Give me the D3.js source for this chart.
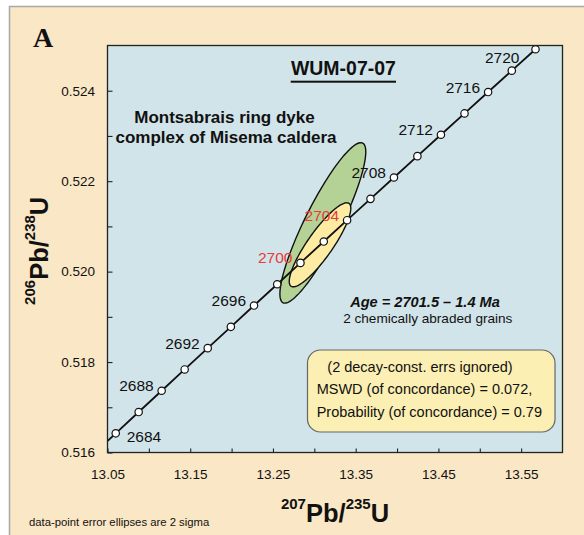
<!DOCTYPE html>
<html>
<head>
<meta charset="utf-8">
<script src="https://cdn.jsdelivr.net/npm/d3@7"></script>
<style>
body{margin:0;background:#fff;}
svg{display:block;}
text{font-family:"Liberation Sans",Arial,sans-serif;fill:#111;}
</style>
</head>
<body>
<div id="chart"></div>
<script>
// concordia points, every 2 Ma
var ages=[2682,2684,2686,2688,2690,2692,2694,2696,2698,2700,2702,2704,2706,2708,2710,2712,2714,2716,2718,2720]
var pb207u235=[13.03229,13.05995,13.08767,13.11545,13.14327,13.17116,13.19910,13.22709,13.25514,13.28325,
    13.31141,13.33963,13.36790,13.39623,13.42461,13.45305,13.48155,13.51009,13.53870,13.56736]
var pb206u238=[0.515954,0.516424,0.516895,0.517366,0.517837,0.518308,0.518779,0.519250,0.519721,0.520193,
    0.520665,0.521137,0.521609,0.522081,0.522553,0.523026,0.523498,0.523971,0.524444,0.524917]
var labelAges=[2684,2688,2692,2696,2700,2704,2708,2712,2716,2720]
var redAges=[2700,2704]

// the two abraded grains: centre, 2 sigma half widths, error correlation
var grains=['grain 1','grain 2']
var grainX=[13.3103,13.3069]
var grainY=[0.521077,0.520593]
var grainSx=[0.0519,0.0372]
var grainSy=[0.001774,0.000929]
var grainRho=[0.885,0.87]
var grainFill=['#b4d296','#fdeca2']

// axes
var xDomain=[13.05,13.60]
var yDomain=[0.516,0.525]
var xMajor=[13.05,13.15,13.25,13.35,13.45,13.55]
var xMinor=[13.10,13.20,13.30,13.40,13.50]
var yMajor=[0.516,0.518,0.520,0.522,0.524]
var yMinor=[0.517,0.519,0.521,0.523]

var svgW=584, svgH=535
var plot={left:107.5,right:562.5,top:45.5,bottom:452.5}

var svg=d3.select('#chart').append('svg')
    .attr('width',svgW)
    .attr('height',svgH)

// beige panel
svg.append('rect')
    .attr('x',9.5).attr('y',6.5)
    .attr('width',svgW+20).attr('height',svgH+20)
    .attr('fill','#fae7c5')
    .attr('stroke','#a8a8a8').attr('stroke-width',1.5)

svg.append('text')
    .attr('x',33).attr('y',47)
    .style('font-family','"Liberation Serif","Times New Roman",serif')
    .style('font-weight','bold').style('font-size','28px')
    .text('A')

var x=d3.scaleLinear().domain(xDomain).range([plot.left,plot.right])
var y=d3.scaleLinear().domain(yDomain).range([plot.bottom,plot.top])

svg.append('rect')
    .attr('x',plot.left).attr('y',plot.top)
    .attr('width',plot.right-plot.left).attr('height',plot.bottom-plot.top)
    .attr('fill','#d1e4e9')

svg.append('clipPath').attr('id','clip')
    .append('rect')
    .attr('x',plot.left).attr('y',plot.top)
    .attr('width',plot.right-plot.left).attr('height',plot.bottom-plot.top)

// error ellipses
function ellipse(i){
    var pts=[]
    var k=Math.sqrt(1-grainRho[i]*grainRho[i])
    for(var s=0;s<=120;s++){
        var t=s/120*2*Math.PI
        var vx=grainX[i]+grainSx[i]*Math.cos(t)
        var vy=grainY[i]+grainSy[i]*(grainRho[i]*Math.cos(t)+k*Math.sin(t))
        pts.push([x(vx),y(vy)])
    }
    return d3.line()(pts)+'Z'
}
svg.append('g').selectAll('path')
    .data(grains)
    .enter().append('path')
    .attr('d',(d,i)=>ellipse(i))
    .attr('fill',(d,i)=>grainFill[i])
    .attr('stroke','#111')
    .attr('stroke-width',1.4)

// concordia
var conc=ages.map((a,i)=>({age:a,x:pb207u235[i],y:pb206u238[i]}))
svg.append('path')
    .datum(conc)
    .attr('clip-path','url(#clip)')
    .attr('d',d3.line().x(d=>x(d.x)).y(d=>y(d.y)))
    .attr('fill','none')
    .attr('stroke','#111')
    .attr('stroke-width',1.8)

var inside=conc.filter(d=>d.x>=xDomain[0])
svg.append('g').selectAll('circle')
    .data(inside)
    .enter().append('circle')
    .attr('cx',d=>x(d.x)).attr('cy',d=>y(d.y))
    .attr('r',3.7)
    .attr('fill','#fff')
    .attr('stroke','#111')
    .attr('stroke-width',1.2)

var labelled=conc.filter(d=>labelAges.includes(d.age))
svg.append('g').selectAll('text')
    .data(labelled)
    .enter().append('text')
    .attr('x',function(d){
        if(d.age==2684) return x(d.x)+11
        if(d.age==2720) return x(d.x)-16
        return x(d.x)-8
    })
    .attr('y',function(d){
        if(d.age==2684) return y(d.y)+8.5
        if(d.age==2720) return y(d.y)+14
        return y(d.y)+0.5
    })
    .attr('text-anchor',d=>d.age==2684?'start':'end')
    .style('font-size','15.5px')
    .style('fill',d=>redAges.includes(d.age)?'#e83a3a':'#111')
    .text(d=>d.age)

// axes, ticks inward
var xAxis=svg.append('g').attr('transform',`translate(0,${plot.bottom})`)
    .call(d3.axisBottom(x).tickValues(xMajor).tickSizeInner(-4).tickSizeOuter(0).tickPadding(16.5).tickFormat(d3.format('.2f')))
xAxis.append('g')
    .call(d3.axisBottom(x).tickValues(xMinor).tickSizeInner(-4).tickSizeOuter(0).tickFormat(''))
var yAxis=svg.append('g').attr('transform',`translate(${plot.left},0)`)
    .call(d3.axisLeft(y).tickValues(yMajor).tickSizeInner(-5).tickSizeOuter(0).tickPadding(12.5).tickFormat(d3.format('.3f')))
yAxis.append('g')
    .call(d3.axisLeft(y).tickValues(yMinor).tickSizeInner(-5).tickSizeOuter(0).tickFormat(''))
svg.selectAll('.domain').remove()
svg.selectAll('.tick line').attr('stroke','#222').attr('stroke-width',1.1)
svg.selectAll('.tick text')
    .attr('font-family','"Liberation Sans",Arial,sans-serif')
    .attr('font-size','13.5px')
    .attr('fill','#222')

svg.append('rect')
    .attr('x',plot.left).attr('y',plot.top)
    .attr('width',plot.right-plot.left).attr('height',plot.bottom-plot.top)
    .attr('fill','none')
    .attr('stroke','#222').attr('stroke-width',1.3)

// title and notes
svg.append('text')
    .attr('x',343.4).attr('y',75)
    .attr('text-anchor','middle')
    .style('font-weight','bold').style('font-size','20px')
    .attr('textLength',105).attr('lengthAdjust','spacingAndGlyphs')
    .text('WUM-07-07')
svg.append('rect')
    .attr('x',290.7).attr('y',80.7)
    .attr('width',105.3).attr('height',2)
    .attr('fill','#111')

var notes=svg.append('text')
    .attr('text-anchor','middle')
    .style('font-weight','bold').style('font-size','17px')
notes.append('tspan').attr('x',224.5).attr('y',122.7).text('Montsabrais ring dyke')
notes.append('tspan').attr('x',226).attr('y',143.3).text('complex of Misema caldera')

svg.append('text')
    .attr('x',425).attr('y',306.7)
    .attr('text-anchor','middle')
    .style('font-weight','bold').style('font-style','italic').style('font-size','14.6px')
    .text('Age = 2701.5 – 1.4 Ma')
svg.append('text')
    .attr('x',427.8).attr('y',323.3)
    .attr('text-anchor','middle')
    .style('font-size','13.6px')
    .text('2 chemically abraded grains')

svg.append('rect')
    .attr('x',307.5).attr('y',350)
    .attr('width',247.5).attr('height',82)
    .attr('rx',13).attr('ry',13)
    .attr('fill','#fcefb3')
    .attr('stroke','#666').attr('stroke-width',1.2)
var box=svg.append('text').style('font-size','14.5px')
box.append('tspan').attr('x',327.3).attr('y',372.3).text('(2 decay-const. errs ignored)')
box.append('tspan').attr('x',316.7).attr('y',394.3).text('MSWD (of concordance) = 0.072,')
box.append('tspan').attr('x',316.7).attr('y',416.7).text('Probability (of concordance) = 0.79')

// axis titles
var xt=svg.append('text')
    .attr('x',335).attr('y',521.7)
    .attr('text-anchor','middle')
    .style('font-weight','bold').style('font-size','25.5px')
xt.append('tspan').style('font-size','15px').attr('dy',-13).text('207')
xt.append('tspan').attr('dy',13).text('Pb/')
xt.append('tspan').style('font-size','15px').attr('dy',-13).text('235')
xt.append('tspan').attr('dy',13).text('U')

var yt=svg.append('text')
    .attr('transform','translate(48.3,250.8) rotate(-90)')
    .attr('text-anchor','middle')
    .style('font-weight','bold').style('font-size','25.5px')
yt.append('tspan').style('font-size','15px').attr('dy',-13).text('206')
yt.append('tspan').attr('dy',13).text('Pb/')
yt.append('tspan').style('font-size','15px').attr('dy',-13).text('238')
yt.append('tspan').attr('dy',13).text('U')

svg.append('text')
    .attr('x',29).attr('y',525.5)
    .style('font-size','11.3px')
    .text('data-point error ellipses are 2 sigma')
</script>
</body>
</html>
